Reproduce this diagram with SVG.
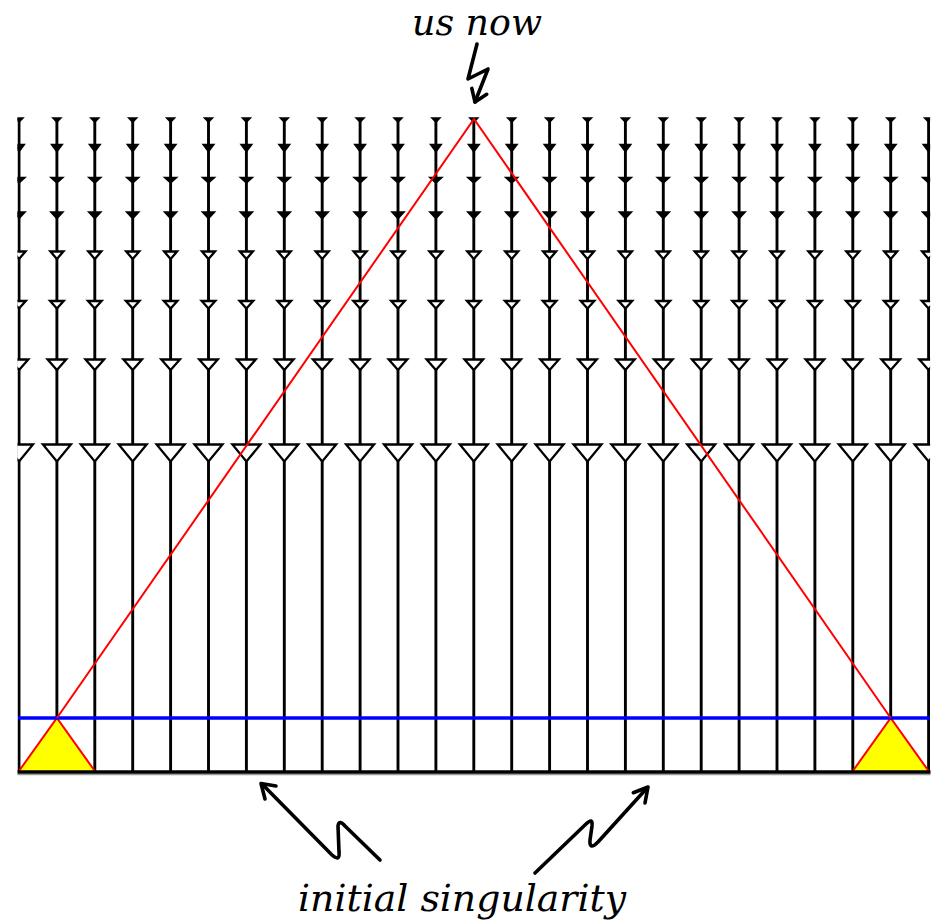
<svg xmlns="http://www.w3.org/2000/svg" xmlns:xlink="http://www.w3.org/1999/xlink" width="941" height="924" viewBox="0 0 941 924">
<style>
.vl{stroke:#000;stroke-width:2.9;fill:none}
.hb{fill:#000;stroke:#000;stroke-width:2.3;stroke-linejoin:miter}
.hw{fill:#fff;stroke:#000;stroke-width:2.3;stroke-linejoin:miter}
.sq{fill:none;stroke:#000;stroke-width:3.6;stroke-linecap:round;stroke-linejoin:round}
.lbl{font-family:"DejaVu Serif","Liberation Serif",serif;font-style:italic;font-size:38px;fill:#000}
</style>
<defs>
<clipPath id="clip"><rect x="17.5" y="100" width="912.6" height="700"/></clipPath>
<g id="col">
<line class="vl" x1="0" y1="118" x2="0" y2="771"/>
<path class="hb" d="M-3,118.5H3L0,121.5Z"/>
<path class="hb" d="M-4.6,145H4.6L0,151Z"/>
<path class="hb" d="M-5,178H5L0,182.5Z"/>
<path class="hb" d="M-5.2,212.5H5.2L0,218Z"/>
<path class="hw" d="M-6.5,251.5H6.5L0,259Z"/>
<path class="hw" d="M-6.8,301H6.8L0,308.5Z"/>
<path class="hw" d="M-9.3,359.5H9.3L0,370Z"/>
<path class="hw" d="M-14,444.5H14L0,461.5Z"/>
</g>
</defs>
<g id="worldlines" clip-path="url(#clip)">
<use href="#col" x="19"/><use href="#col" x="56.9"/><use href="#col" x="94.8"/><use href="#col" x="132.7"/><use href="#col" x="170.6"/>
<use href="#col" x="208.5"/><use href="#col" x="246.4"/><use href="#col" x="284.3"/><use href="#col" x="322.2"/><use href="#col" x="360.1"/>
<use href="#col" x="398"/><use href="#col" x="435.9"/><use href="#col" x="473.8"/><use href="#col" x="511.7"/><use href="#col" x="549.6"/>
<use href="#col" x="587.5"/><use href="#col" x="625.4"/><use href="#col" x="663.3"/><use href="#col" x="701.2"/><use href="#col" x="739.1"/>
<use href="#col" x="777"/><use href="#col" x="814.9"/><use href="#col" x="852.8"/><use href="#col" x="890.7"/><use href="#col" x="928.6"/>
</g>
<g id="left-triangle">
<polygon points="19,771 56.9,718 94.8,771" fill="#ffff00"/>
<polyline points="19,771 56.9,718 94.8,771" fill="none" stroke="#ff0000" stroke-width="2"/>
</g>
<g id="right-triangle">
<polygon points="852.8,771 890.7,718 928.6,771" fill="#ffff00"/>
<polyline points="852.8,771 890.7,718 928.6,771" fill="none" stroke="#ff0000" stroke-width="2"/>
</g>
<g id="surface">
<line x1="18" y1="718" x2="930" y2="718" stroke="#0000ff" stroke-width="3.6"/>
</g>
<g id="past-cone">
<polyline points="56.9,718 474,119 890.7,718" fill="none" stroke="#ff0000" stroke-width="2"/>
</g>
<g id="singularity">
<line x1="17.5" y1="774.5" x2="930.5" y2="774.5" stroke="#9a9a9a" stroke-width="1.5"/>
<line x1="17.5" y1="772" x2="930.5" y2="772" stroke="#000" stroke-width="3.4"/>
</g>
<g id="connectors">
<path class="sq" d="M477,44 L468,79 L488,69 L475,102"/>
<polyline class="sq" points="471.8,88.4 475,102 486.7,94.3"/>
<path class="sq" d="M380,860 L345,826 Q339,819 338,826 L339,852 Q340,862 332,855 L262,784"/>
<polyline class="sq" points="265,799 261,783.5 276,786"/>
<path class="sq" d="M535,873 L586,824 Q593,817 592,826 L590,840 Q589,851 598,842 L647,788"/>
<polyline class="sq" points="633.3,792.7 648,787 645,803"/>
</g>
<g id="labels">
<text class="lbl" x="412" y="35" textLength="130" lengthAdjust="spacingAndGlyphs">us now</text>
<text class="lbl" x="298" y="911" textLength="328" lengthAdjust="spacingAndGlyphs">initial singularity</text>
</g>
</svg>
